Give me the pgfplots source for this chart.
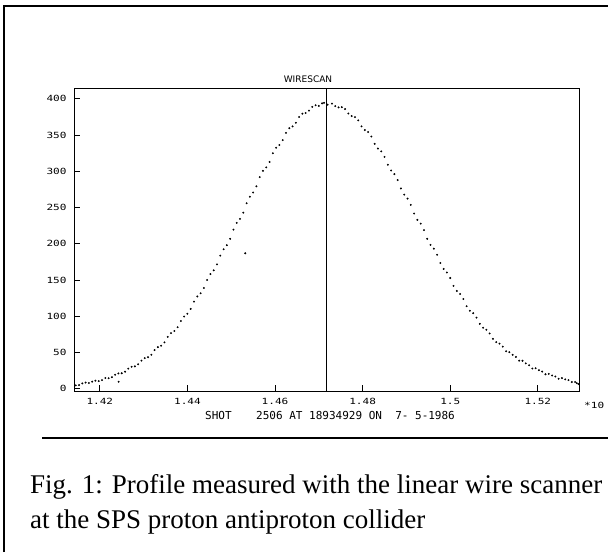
\documentclass[border=0pt]{standalone}
\usepackage{pgfplots}
\usepackage{pgfplotstable}
\pgfplotsset{compat=1.18}
\usepackage{fontspec}
\setmainfont{Liberation Serif}
\newfontfamily\plotfont{DejaVu Sans}
\newfontfamily\monofont[FakeStretch=1.3]{DejaVu Sans Mono}
\newfontfamily\shotfont{DejaVu Sans Mono}

\pgfplotstableread{
x y
1.4145 4.8
1.41525 5.2
1.4160 7.5
1.41675 8.6
1.4175 8.0
1.41825 9.9
1.4190 11.2
1.41975 10.6
1.4205 12.0
1.42125 14.9
1.4220 14.6
1.42275 16.1
1.4235 19.4
1.42425 21.2
1.4243 9.8
1.4250 21.5
1.42575 23.6
1.4265 27.9
1.42725 30.4
1.4280 31.0
1.42875 33.9
1.4295 38.9
1.43025 42.3
1.4310 43.6
1.43175 47.0
1.4325 53.4
1.43325 57.5
1.4340 59.5
1.43475 64.1
1.4355 71.6
1.43625 76.8
1.4370 79.8
1.43775 85.0
1.4385 93.5
1.43925 99.7
1.4400 103.6
1.44075 110.2
1.4415 120.2
1.44225 127.4
1.4430 131.8
1.44375 139.2
1.4445 150.2
1.44525 158.3
1.4460 163.5
1.44675 171.6
1.4475 183.8
1.44825 192.5
1.4490 198.2
1.44975 206.9
1.4505 219.6
1.45125 228.9
1.4520 234.5
1.45275 243.0
1.4532 187.0
1.4535 256.0
1.45425 265.0
1.4550 270.8
1.45575 279.4
1.4565 292.0
1.45725 300.8
1.4580 305.5
1.45875 313.0
1.4595 325.0
1.46025 332.6
1.4610 336.4
1.46175 343.1
1.4625 353.2
1.46325 359.5
1.4640 362.0
1.46475 367.0
1.4655 375.1
1.46625 379.6
1.4670 380.5
1.46775 383.8
1.4685 389.0
1.46925 391.2
1.4700 390.3
1.47075 393.8
1.4712 394.5
1.4720 392.0
1.4730 393.4
1.47375 389.9
1.4745 388.2
1.47525 388.6
1.4760 385.9
1.47675 379.8
1.4775 376.3
1.47825 374.9
1.4790 370.4
1.47975 362.1
1.4805 357.0
1.48125 354.3
1.4820 348.0
1.48275 338.0
1.4835 331.5
1.48425 327.6
1.4850 320.0
1.48575 309.1
1.4865 301.2
1.48725 296.2
1.4880 288.0
1.48875 276.4
1.4895 268.0
1.49025 262.5
1.4910 253.8
1.49175 241.8
1.4925 233.1
1.49325 227.9
1.4940 219.0
1.49475 207.0
1.4955 198.6
1.49625 193.3
1.4970 184.9
1.49775 173.6
1.4985 165.4
1.49925 160.5
1.5000 152.9
1.50075 142.1
1.5015 135.0
1.50225 130.9
1.5030 123.8
1.50375 114.0
1.5045 107.7
1.50525 104.3
1.5060 98.2
1.50675 89.7
1.5075 84.3
1.50825 81.5
1.5090 76.4
1.50975 69.0
1.5105 64.4
1.51125 62.3
1.5120 58.2
1.51275 51.8
1.5135 50.6
1.51425 46.9
1.5150 44.0
1.51575 38.8
1.5165 38.7
1.51725 35.1
1.5180 32.5
1.51875 28.0
1.5195 28.4
1.52025 25.7
1.5210 23.9
1.52175 20.1
1.5225 20.6
1.52325 18.4
1.5240 17.0
1.52475 13.9
1.5255 14.8
1.52625 13.0
1.5270 11.9
1.52775 9.4
1.5285 9.4
1.5289 7.8
1.5293 6.5
}\profile

\begin{document}
\begin{tikzpicture}
\useasboundingbox (0pt,0pt) rectangle (608pt,-552pt);
\draw[line width=2.2pt] (4pt,-552pt) -- (4pt,-6pt) -- (608pt,-6pt);
\begin{axis}[
  at={(74pt,-391pt)}, anchor=south west,
  scale only axis, width=505pt, height=303pt,
  xmin=1.4141, xmax=1.5294, ymin=-3, ymax=415,
  xtick={1.42,1.44,1.46,1.48,1.5,1.52},
  xticklabels={1.42,1.44,1.46,1.48,1.5,1.52},
  ytick={0,50,100,150,200,250,300,350,400},
  tick align=inside, major tick length=6pt,
  xtick pos=bottom, ytick pos=left,
  axis line style={line width=0.9pt},
  tick style={line width=0.9pt, black},
  /pgf/number format/assume math mode=true,
  tick label style={font=\monofont\fontsize{8.5}{10}\selectfont},
  xticklabel style={yshift=-4pt},
  yticklabel style={xshift=-4pt},
]
\addplot[black, line width=0.8pt] coordinates {(1.4718,-3) (1.4718,415)};
\addplot[only marks, mark=*, mark size=0.75pt, black] table[x=x,y=y] {\profile};
\end{axis}
\node[font=\plotfont\fontsize{9}{10}\selectfont] at (308pt,-79pt) {WIRESCAN};
\node[font=\monofont\fontsize{8.5}{10}\selectfont, anchor=west, inner sep=0pt] at (584pt,-405pt) {*10};
\node[font=\shotfont\fontsize{11}{12}\selectfont, anchor=base west, inner sep=0pt] at (205pt,-419pt) {SHOT};
\node[font=\shotfont\fontsize{11}{12}\selectfont, anchor=base west, inner sep=0pt] at (256pt,-419pt) {2506 AT 18934929 ON\ \ 7- 5-1986};
\draw[line width=2pt] (42pt,-438pt) -- (608pt,-438pt);
\node[font=\fontsize{27}{35}\selectfont, anchor=base west, inner sep=0pt] at (30pt,-493pt) {Fig. 1: Profile measured with the linear wire scanner};
\node[font=\fontsize{27}{35}\selectfont, anchor=base west, inner sep=0pt] at (30pt,-528pt) {at the SPS proton antiproton collider};
\end{tikzpicture}
\end{document}
